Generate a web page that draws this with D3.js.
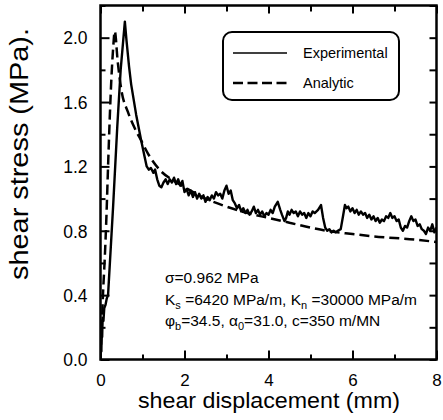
<!DOCTYPE html>
<html>
<head>
<meta charset="utf-8">
<script src="https://cdn.jsdelivr.net/npm/d3@7/dist/d3.min.js"></script>
<style>
  html, body { margin: 0; padding: 0; background: #fff; }
  svg { display: block; font-family: Arial, "Liberation Sans", Helvetica, sans-serif; }
</style>
</head>
<body>
<div id="chart"></div>
<script>
// measured curve (shear displacement mm, shear stress MPa)
var expX = [0, 0.01, 0.02, 0.03, 0.04, 0.05, 0.07, 0.09, 0.12, 0.15, 0.18, 0.30, 0.40, 0.48, 0.54, 0.58,
  0.62, 0.68, 0.73, 0.85, 0.97, 1.05, 1.10, 1.15, 1.20, 1.26, 1.30, 1.35, 1.40, 1.45, 1.50, 1.55, 1.60,
  1.65, 1.70, 1.75, 1.80, 1.85, 1.90, 1.95, 2.00, 2.05, 2.10, 2.15, 2.20, 2.25, 2.30, 2.35, 2.40, 2.45,
  2.50, 2.55, 2.60, 2.65, 2.70, 2.75, 2.80, 2.85, 2.90, 2.95, 3.00, 3.05, 3.10, 3.15, 3.20, 3.25, 3.30,
  3.35, 3.40, 3.45, 3.50, 3.55, 3.60, 3.65, 3.70, 3.75, 3.80, 3.85, 3.90, 3.95, 4.00, 4.05, 4.10, 4.15,
  4.22, 4.28, 4.32, 4.38, 4.42, 4.46, 4.50, 4.55, 4.60, 4.65, 4.70, 4.75, 4.80, 4.85, 4.90, 4.95, 5.00,
  5.05, 5.10, 5.18, 5.25, 5.30, 5.35, 5.40, 5.45, 5.50, 5.55, 5.60, 5.65, 5.72, 5.78, 5.82, 5.86, 5.90,
  5.95, 6.00, 6.05, 6.10, 6.15, 6.20, 6.25, 6.30, 6.35, 6.40, 6.45, 6.50, 6.55, 6.60, 6.65, 6.70, 6.75,
  6.80, 6.85, 6.90, 6.95, 7.00, 7.05, 7.10, 7.15, 7.20, 7.25, 7.30, 7.35, 7.40, 7.45, 7.50, 7.55, 7.60,
  7.65, 7.70, 7.75, 7.80, 7.85, 7.90, 7.95, 8.00];
var expY = [0, 0.08, 0.05, 0.18, 0.14, 0.26, 0.24, 0.32, 0.34, 0.38, 0.40, 0.95, 1.45, 1.80, 1.98, 2.10,
  1.98, 1.82, 1.71, 1.52, 1.36, 1.26, 1.20, 1.18, 1.19, 1.16, 1.18, 1.12, 1.08, 1.07, 1.10, 1.12, 1.09,
  1.12, 1.10, 1.13, 1.09, 1.12, 1.08, 1.11, 1.04, 1.06, 1.02, 1.05, 1.01, 1.04, 1.00, 1.03, 1.00, 1.02,
  0.98, 1.01, 0.99, 1.02, 1.00, 1.04, 1.02, 1.03, 1.00, 1.05, 1.08, 1.03, 1.05, 0.99, 0.97, 0.94, 0.96,
  0.92, 0.94, 0.91, 0.93, 0.90, 0.92, 0.95, 0.91, 0.93, 0.90, 0.92, 0.89, 0.91, 0.90, 0.93, 0.91, 0.95,
  0.98, 0.93, 0.90, 0.86, 0.88, 0.92, 0.90, 0.93, 0.91, 0.92, 0.89, 0.92, 0.90, 0.91, 0.88, 0.91, 0.89,
  0.92, 0.91, 0.93, 0.96, 0.88, 0.82, 0.80, 0.81, 0.79, 0.80, 0.79, 0.80, 0.81, 0.90, 0.96, 0.94, 0.95,
  0.92, 0.94, 0.91, 0.93, 0.90, 0.92, 0.90, 0.91, 0.88, 0.90, 0.87, 0.89, 0.86, 0.88, 0.85, 0.87, 0.86,
  0.89, 0.88, 0.91, 0.88, 0.89, 0.86, 0.87, 0.82, 0.80, 0.83, 0.82, 0.86, 0.89, 0.86, 0.87, 0.83, 0.84,
  0.81, 0.80, 0.78, 0.82, 0.80, 0.84, 0.79, 0.82];

// analytic curve
var anaX = [0, 0.03, 0.06, 0.10, 0.14, 0.18, 0.22, 0.26, 0.30, 0.34, 0.41, 0.50, 0.65, 0.81, 0.97, 1.13,
  1.44, 1.75, 2.07, 2.5, 3.0, 3.5, 4.0, 4.5, 5.0, 5.5, 6.0, 6.5, 7.0, 7.5, 8.0];
var anaY = [0, 0.20, 0.41, 0.62, 0.88, 1.20, 1.50, 1.75, 1.93, 2.04, 1.85, 1.67, 1.54, 1.44, 1.36, 1.28,
  1.17, 1.11, 1.06, 1.00, 0.95, 0.91, 0.88, 0.85, 0.82, 0.795, 0.78, 0.765, 0.755, 0.745, 0.73];

var xTicks = [0, 2, 4, 6, 8];
var xMinorTicks = [1, 3, 5, 7];
var yTicks = [0.0, 0.4, 0.8, 1.2, 1.6, 2.0];
var yMinorTicks = [0.2, 0.6, 1.0, 1.4, 1.8, 2.2];

var seriesNames = ['Experimental', 'Analytic'];
var xTitle = 'shear displacement (mm)';
var yTitle = 'shear stress (MPa).';

var width = 443, height = 420;
var area = { left: 100.5, right: 436.5, top: 5.5, bottom: 359.5 };

var svg = d3.select('#chart')
  .append('svg')
    .attr('width', width)
    .attr('height', height);

var x = d3.scaleLinear().domain([0, 8]).range([area.left, area.right]);
var y = d3.scaleLinear().domain([0, 2.2]).range([area.bottom, area.top]);

svg.append('clipPath')
    .attr('id', 'clip')
  .append('rect')
    .attr('x', area.left)
    .attr('y', area.top)
    .attr('width', area.right - area.left)
    .attr('height', area.bottom - area.top);

//
//  ticks (all pointing inward)
//
function tickAxis(axisFn, scale, values, size, labels, transform) {
  var g = svg.append('g')
    .attr('transform', transform)
    .call(axisFn(scale).tickValues(values).tickSize(-size).tickSizeOuter(0)
      .tickPadding(labels ? 8 : 0)
      .tickFormat(labels ? labels : ''));
  g.select('.domain').remove();
  g.selectAll('line').attr('stroke', '#000').attr('stroke-width', 2);
  return g;
}

var fmt = d3.format('.1f');

var xb = tickAxis(d3.axisBottom, x, xTicks, 9, d3.format('d'), 'translate(0,' + area.bottom + ')');
tickAxis(d3.axisBottom, x, xMinorTicks, 5, null, 'translate(0,' + area.bottom + ')');
tickAxis(d3.axisTop, x, xTicks, 8, null, 'translate(0,' + area.top + ')');
tickAxis(d3.axisTop, x, xMinorTicks, 6, null, 'translate(0,' + area.top + ')');

var yl = tickAxis(d3.axisLeft, y, yTicks, 9, fmt, 'translate(' + area.left + ',0)');
tickAxis(d3.axisLeft, y, yMinorTicks, 5, null, 'translate(' + area.left + ',0)');
tickAxis(d3.axisRight, y, yTicks, 7, null, 'translate(' + area.right + ',0)');
tickAxis(d3.axisRight, y, yMinorTicks, 7, null, 'translate(' + area.right + ',0)');

xb.selectAll('text')
  .attr('font-size', 17)
  .attr('fill', '#000')
  .attr('y', 14)
  .attr('dy', '0.71em');

yl.selectAll('text')
  .attr('font-size', 17.5)
  .attr('fill', '#000')
  .attr('x', -13)
  .attr('dy', '0.36em');

// frame
svg.append('rect')
  .attr('x', area.left)
  .attr('y', area.top)
  .attr('width', area.right - area.left)
  .attr('height', area.bottom - area.top)
  .attr('fill', 'none')
  .attr('stroke', '#000')
  .attr('stroke-width', 2.5);

//
//  curves
//
var expData = expX.map(function(d, i) { return [d, expY[i]]; });
var anaData = anaX.map(function(d, i) { return [d, anaY[i]]; });

var lineGen = d3.line()
  .x(function(d) { return x(d[0]); })
  .y(function(d) { return y(d[1]); });

svg.append('path')
  .datum(anaData)
  .attr('clip-path', 'url(#clip)')
  .attr('fill', 'none')
  .attr('stroke', '#000')
  .attr('stroke-width', 2.5)
  .attr('stroke-dasharray', '10,5')
  .attr('d', lineGen.curve(d3.curveMonotoneX));

svg.append('path')
  .datum(expData)
  .attr('clip-path', 'url(#clip)')
  .attr('fill', 'none')
  .attr('stroke', '#000')
  .attr('stroke-width', 2.4)
  .attr('stroke-linejoin', 'round')
  .attr('d', lineGen.curve(d3.curveLinear));

//
//  legend
//
var legend = svg.append('g');

legend.append('rect')
  .attr('x', 223)
  .attr('y', 32)
  .attr('width', 176)
  .attr('height', 68)
  .attr('rx', 9)
  .attr('fill', '#fff')
  .attr('stroke', '#000')
  .attr('stroke-width', 2);

seriesNames.forEach(function(name, i) {
  var ly = 53 + i * 30;
  legend.append('line')
    .attr('x1', 233).attr('x2', 287)
    .attr('y1', ly).attr('y2', ly)
    .attr('stroke', '#000')
    .attr('stroke-width', i === 0 ? 1.5 : 2.5)
    .attr('stroke-dasharray', i === 0 ? null : '10,4.5');
  legend.append('text')
    .attr('x', 303)
    .attr('y', ly + 5)
    .attr('font-size', 14.5)
    .text(name);
});

//
//  parameters note
//
var note = svg.append('g').attr('font-size', 15.5);

note.append('text').attr('x', 165).attr('y', 283).text('σ=0.962 MPa');

var t2 = note.append('text').attr('x', 165).attr('y', 305);
t2.append('tspan').text('K');
t2.append('tspan').attr('font-size', 11).attr('dy', 4).text('s');
t2.append('tspan').attr('dy', -4).text(' =6420 MPa/m, K');
t2.append('tspan').attr('font-size', 11).attr('dy', 4).text('n');
t2.append('tspan').attr('dy', -4).text(' =30000 MPa/m');

var t3 = note.append('text').attr('x', 165).attr('y', 326);
t3.append('tspan').text('φ');
t3.append('tspan').attr('font-size', 11).attr('dy', 4).text('b');
t3.append('tspan').attr('dy', -4).text('=34.5, α');
t3.append('tspan').attr('font-size', 11).attr('dy', 4).text('0');
t3.append('tspan').attr('dy', -4).text('=31.0, c=350 m/MN');

//
//  axis titles
//
svg.append('text')
  .attr('x', 269)
  .attr('y', 408)
  .attr('text-anchor', 'middle')
  .attr('font-size', 22)
  .attr('textLength', 262)
  .attr('lengthAdjust', 'spacingAndGlyphs')
  .text(xTitle);

svg.append('text')
  .attr('transform', 'translate(28,154) rotate(-90)')
  .attr('text-anchor', 'middle')
  .attr('font-size', 26)
  .attr('textLength', 252)
  .attr('lengthAdjust', 'spacingAndGlyphs')
  .text(yTitle);
</script>
</body>
</html>
